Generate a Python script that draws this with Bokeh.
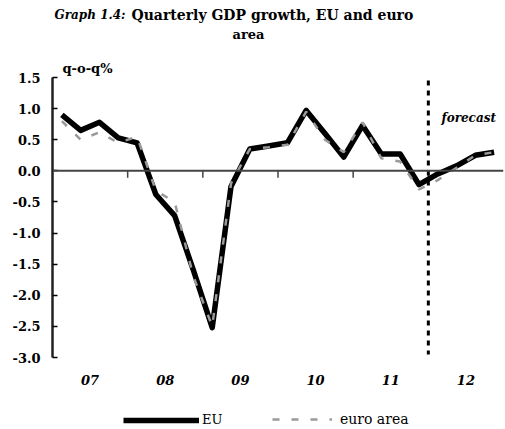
from bokeh.plotting import figure
from bokeh.models import (Range1d, Span, Label, Legend, LegendItem, FixedTicker,
                          PrintfTickFormatter, ColumnDataSource)
from bokeh.embed import file_html
from bokeh.resources import INLINE

# ---- data -----------------------------------------------------------------
year_labels = ["07", "08", "09", "10", "11", "12"]
quarters = [f"20{y}Q{q}" for y in year_labels for q in range(1, 5)]
eu = [0.90, 0.65, 0.78, 0.53, 0.45, -0.38, -0.72, -1.60,
      -2.52, -0.25, 0.35, 0.40, 0.45, 0.97, 0.60, 0.22,
      0.73, 0.27, 0.27, -0.22, -0.05, 0.08, 0.25, 0.30]
euro_area = [0.80, 0.50, 0.62, 0.45, 0.55, -0.32, -0.50, -1.70,
             -2.50, -0.20, 0.35, 0.38, 0.42, 0.95, 0.50, 0.30,
             0.78, 0.20, 0.15, -0.30, -0.15, 0.05, 0.25, 0.30]
forecast_start = quarters.index("2012Q1")
y_ticks = [-3.0, -2.5, -2.0, -1.5, -1.0, -0.5, 0.0, 0.5, 1.0, 1.5]

# ---- layout (pixel positions in the picture) ---------------------------------
W, H = 505, 429
FL, FR = 52, 503            # frame left/right in pixels
AX_T, AX_B = 77, 357        # pixel rows of y = 1.5 and y = -3.0
YA0, YA1 = y_ticks[0], y_ticks[-1]
ppu = (AX_B - AX_T) / (YA1 - YA0)
Y_TOP = YA1 + AX_T / ppu
Y_BOT = YA0 - (H - AX_B) / ppu
X0, X1 = 0, len(quarters)

def dx(px):
    return X0 + (px - FL) * (X1 - X0) / (FR - FL)

def dy(py):
    return YA1 - (py - AX_T) / ppu

SERIF = "DejaVu Serif"

p = figure(width=W, height=H, output_backend="svg", toolbar_location=None,
           x_range=Range1d(X0, X1), y_range=Range1d(Y_BOT, Y_TOP),
           min_border_left=FL, min_border_right=W - FR,
           min_border_top=0, min_border_bottom=0)
p.outline_line_color = None
p.xgrid.visible = False
p.ygrid.visible = False
p.xaxis.visible = False
p.background_fill_color = "white"
p.border_fill_color = "white"

# y axis
ya = p.yaxis[0]
ya.ticker = FixedTicker(ticks=y_ticks)
ya.bounds = (YA0, YA1)
ya.formatter = PrintfTickFormatter(format="%.1f")
ya.axis_line_width = 2.5
ya.axis_line_color = "#222222"
ya.major_tick_in = 5
ya.major_tick_out = 0
ya.major_tick_line_width = 1.5
ya.minor_tick_line_color = None
ya.major_label_standoff = 12
ya.major_label_text_font = SERIF
ya.major_label_text_font_style = "bold"
ya.major_label_text_font_size = "13px"
ya.major_label_text_color = "black"

# year labels (x axis)
year_centres = [4 * i + 2 for i in range(len(year_labels))]
src_years = ColumnDataSource(dict(x=year_centres, y=[dy(379)] * len(year_labels),
                                  t=year_labels))
p.text(x="x", y="y", text="t", source=src_years, text_align="center",
       text_baseline="middle", text_font={"value": SERIF},
       text_font_style="bold italic", text_font_size="13px", text_color="black")

# zero line with year-boundary ticks
p.add_layout(Span(location=0, dimension="width", line_color="#444444", line_width=2))
bounds = [4 * i for i in range(1, len(year_labels))]
p.segment(x0=bounds, y0=[0] * len(bounds), x1=bounds, y1=[-0.11] * len(bounds),
          line_color="#444444", line_width=1.5)

# forecast divider
p.segment(x0=[forecast_start], y0=[YA1 - 0.05], x1=[forecast_start], y1=[YA0 + 0.05],
          line_color="black", line_width=3, line_dash="5 5")

xs = [i + 0.5 for i in range(len(quarters))]
eu_r = p.line(xs, eu, line_color="black", line_width=5.5, line_join="round")
ea_r = p.line(xs, euro_area, line_color="#9a9a9a", line_width=2.5, line_dash="7 12")

# titles and labels
def lab(px, py, text, align="left", style="normal", size="13px"):
    p.add_layout(Label(x=dx(px), y=dy(py), text=text, text_align=align,
                       text_baseline="middle", text_font=SERIF,
                       text_font_style=style, text_font_size=size,
                       text_color="black"))

lab(54, 14, "Graph 1.4:", "left", "bold italic", "12px")
lab(131, 14, "Quarterly GDP growth, EU and euro", "left", "bold", "14px")
lab(248, 34, "area", "center", "bold", "13px")
lab(62, 68, "q-o-q%", "left", "bold", "13px")
lab(441, 117, "forecast", "left", "bold italic", "12px")

# legends (two, so each can have its own sample length)
def make_legend(label, rend, x_px, glyph_w, standoff, size):
    leg = Legend(items=[LegendItem(label=label, renderers=[rend])],
                 location=(x_px - FL, H - (420 + 7)), orientation="horizontal",
                 glyph_width=glyph_w, glyph_height=14, label_height=14,
                 padding=0, margin=0, spacing=0, label_standoff=standoff,
                 border_line_color=None, background_fill_alpha=0,
                 label_text_font=SERIF, label_text_font_size=size,
                 label_text_color="black")
    p.add_layout(leg, "center")

make_legend("EU", eu_r, 123, 76, 3, "13px")
make_legend("euro area", ea_r, 272, 60, 8, "14px")

open("out.html", "w").write(file_html(p, INLINE))
